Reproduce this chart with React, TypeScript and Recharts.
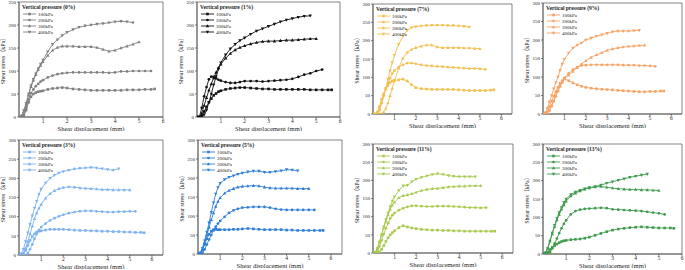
import React from 'react';
import { LineChart, Line, XAxis, YAxis, ReferenceArea } from 'recharts';

// shear displacement grid (mm), shared by every series
const DISP = [0, 0.1, 0.2, 0.3, 0.4, 0.5, 0.6, 0.7, 0.8, 0.9, 1.0, 1.2, 1.4, 1.6, 1.8, 2.0, 2.25, 2.5, 2.75, 3.0, 3.25, 3.5, 3.75, 4.0, 4.25, 4.5, 4.75, 5.0, 5.25, 5.5, 5.65];
const LOADS = ['100kPa', '200kPa', '300kPa', '400kPa'];

// 0%
const A_100 = [0, 0, 3, 15, 32, 44, 50, 53, 55, 56, 57, 60, 62, 63, 64, 63, 61, 60, 59, 58, 58, 58, 58, 58, 58, 59, 59, 59, 60, 60, 61];
const A_200 = [0, 0, 5, 20, 38, 52, 60, 67, 72, 77, 80, 86, 90, 93, 95, 96, 97, 97, 97, 97, 97, 97, 96, 97, 99, 99, 100, 100, 100, 100];
const A_300 = [0, 2, 12, 28, 48, 66, 80, 92, 103, 112, 120, 134, 145, 151, 154, 154, 154, 153, 153, 153, 151, 147, 143, 145, 150, 154, 158, 163];
const A_400 = [0, 2, 14, 30, 50, 68, 82, 94, 105, 115, 124, 142, 158, 168, 177, 184, 190, 195, 198, 200, 202, 203, 205, 207, 208, 207, 205];
// 1%
const B_100 = [0, 0, 3, 12, 22, 32, 40, 47, 51, 55, 57, 60, 62, 63, 64, 64, 63, 62, 61, 61, 60, 60, 60, 60, 60, 60, 59, 59, 59, 59, 59];
const B_200 = [0, 0, 20, 45, 65, 82, 88, 87, 84, 81, 79, 76, 74, 74, 76, 78, 78, 78, 77, 78, 79, 80, 81, 83, 87, 92, 95, 100, 103];
const B_300 = [0, 0, 8, 25, 42, 58, 72, 85, 97, 107, 115, 128, 138, 146, 151, 155, 159, 162, 164, 165, 165, 166, 167, 167, 168, 169, 170, 170];
const B_400 = [0, 0, 0, 5, 15, 32, 50, 70, 88, 104, 118, 135, 148, 158, 166, 172, 180, 187, 192, 197, 202, 207, 211, 214, 217, 219, 220];
// 7%
const C_100 = [0, 0, 5, 20, 40, 55, 68, 78, 86, 90, 92, 93, 95, 90, 80, 72, 69, 68, 67, 67, 67, 67, 67, 66, 65, 64, 64, 64, 64, 65, 66];
const C_200 = [0, 0, 0, 10, 30, 50, 68, 85, 98, 110, 118, 128, 134, 139, 139, 137, 134, 132, 131, 130, 129, 128, 127, 126, 125, 124, 124, 123, 122];
const C_300 = [0, 0, 0, 0, 0, 5, 15, 30, 50, 70, 90, 125, 152, 168, 176, 181, 185, 188, 188, 183, 181, 181, 181, 181, 180, 180, 179, 178];
const C_400 = [0, 0, 3, 12, 28, 48, 70, 95, 118, 140, 160, 190, 212, 228, 236, 238, 240, 241, 242, 242, 242, 241, 241, 240, 239, 237];
// 9%
const D_100 = [0, 0, 5, 20, 35, 48, 60, 72, 83, 90, 95, 90, 84, 79, 75, 72, 70, 68, 67, 66, 65, 64, 63, 62, 61, 60, 60, 61, 61, 62, 62];
const D_200 = [0, 0, 3, 10, 22, 35, 48, 62, 75, 88, 98, 110, 120, 127, 131, 132, 133, 133, 133, 133, 133, 133, 132, 132, 132, 131, 131, 130, 129];
const D_300 = [0, 0, 3, 10, 22, 35, 50, 63, 75, 85, 95, 105, 115, 125, 135, 144, 153, 160, 166, 172, 176, 179, 181, 183, 184, 185, 186];
const D_400 = [0, 3, 15, 32, 50, 68, 85, 100, 118, 135, 148, 165, 178, 186, 192, 200, 205, 210, 214, 218, 222, 224, 224, 224, 225, 226];
// 3%
const E_100 = [0, 0, 3, 12, 25, 38, 48, 55, 60, 62, 63, 65, 67, 67, 67, 67, 66, 65, 64, 64, 63, 63, 62, 62, 61, 61, 60, 60, 59, 59, 58];
const E_200 = [0, 0, 0, 0, 5, 15, 28, 42, 55, 65, 73, 82, 90, 96, 101, 105, 109, 112, 114, 115, 115, 114, 113, 112, 112, 113, 113, 114, 114];
const E_300 = [0, 0, 5, 18, 35, 55, 75, 95, 110, 122, 132, 148, 160, 168, 173, 176, 178, 177, 175, 174, 173, 172, 171, 171, 170, 170, 170, 170];
const E_400 = [0, 3, 15, 35, 58, 80, 102, 122, 140, 158, 172, 188, 200, 208, 214, 218, 221, 224, 226, 227, 228, 227, 225, 223, 221, 225];
// 5%
const F_100 = [0, 2, 10, 25, 40, 52, 60, 64, 65, 64, 64, 64, 64, 65, 65, 66, 67, 66, 65, 64, 64, 64, 64, 63, 63, 62, 62, 62, 62, 62, 62];
const F_200 = [0, 0, 3, 12, 25, 38, 50, 62, 72, 80, 87, 98, 108, 115, 119, 122, 123, 124, 124, 124, 122, 119, 117, 116, 116, 116, 116, 116, 116];
const F_300 = [0, 2, 12, 30, 50, 70, 90, 108, 125, 138, 148, 160, 167, 172, 176, 178, 179, 180, 179, 176, 174, 173, 173, 173, 173, 172, 172, 172];
const F_400 = [0, 3, 15, 35, 58, 82, 110, 135, 158, 175, 186, 196, 202, 206, 210, 213, 216, 218, 218, 215, 215, 217, 219, 222, 221, 219];
// 11%
const G_100 = [0, 0, 0, 3, 10, 20, 32, 42, 50, 56, 61, 70, 75, 72, 69, 67, 65, 64, 63, 63, 62, 62, 61, 61, 60, 60, 60, 60, 60, 60, 60];
const G_200 = [0, 0, 5, 18, 35, 52, 68, 82, 95, 104, 110, 118, 123, 127, 130, 130, 129, 128, 128, 129, 129, 129, 128, 127, 126, 125, 125, 124, 125];
const G_300 = [0, 2, 12, 30, 50, 70, 88, 105, 120, 132, 140, 152, 158, 160, 163, 167, 172, 175, 177, 178, 180, 182, 183, 184, 184, 185, 185, 185];
const G_400 = [0, 2, 12, 30, 50, 72, 92, 110, 128, 143, 155, 172, 185, 186, 196, 203, 208, 212, 216, 218, 216, 213, 211, 210, 210, 210, 210];
// 13%
const H_100 = [0, 0, 5, 12, 18, 23, 27, 31, 34, 36, 37, 39, 40, 41, 43, 46, 51, 56, 61, 65, 68, 70, 72, 73, 74, 73, 72, 71, 71, 71, 70];
const H_200 = [0, 0, 0, 5, 15, 28, 42, 57, 70, 82, 92, 108, 117, 121, 123, 124, 125, 126, 125, 122, 121, 120, 119, 118, 117, 115, 113, 111, 108];
const H_300 = [0, 3, 15, 35, 55, 75, 93, 108, 122, 134, 144, 158, 166, 172, 177, 180, 183, 184, 182, 180, 178, 177, 176, 176, 175, 175, 174, 173];
const H_400 = [0, 3, 15, 35, 57, 78, 97, 113, 127, 140, 150, 162, 169, 174, 178, 181, 184, 188, 193, 197, 201, 205, 209, 212, 215, 218];

const FONT = '"Liberation Serif", "Noto Sans CJK SC", serif';
const INK = '#222';

// plot-area rectangles (page px) for each panel
const PANELS = [
  { pct: '0%', color: '#808080', l: 19, t: 2, r: 163, b: 117, xMax: 6, yMax: 250, series: [A_100, A_200, A_300, A_400] },
  { pct: '1%', color: '#111111', l: 197, t: 2, r: 340, b: 117, xMax: 6, yMax: 250, series: [B_100, B_200, B_300, B_400] },
  { pct: '7%', color: '#f2c050', l: 373, t: 4, r: 512, b: 114, xMax: 6.5, yMax: 300, series: [C_100, C_200, C_300, C_400] },
  { pct: '9%', color: '#f6a466', l: 543, t: 3, r: 682, b: 114, xMax: 6.5, yMax: 300, series: [D_100, D_200, D_300, D_400] },
  { pct: '3%', color: '#7db2f2', l: 19, t: 140, r: 163, b: 255, xMax: 6.5, yMax: 300, series: [E_100, E_200, E_300, E_400] },
  { pct: '5%', color: '#2f7fd8', l: 198, t: 140, r: 342, b: 254, xMax: 6.5, yMax: 300, series: [F_100, F_200, F_300, F_400] },
  { pct: '11%', color: '#a8cb4e', l: 373, t: 144, r: 513, b: 253, xMax: 6.5, yMax: 300, series: [G_100, G_200, G_300, G_400] },
  { pct: '13%', color: '#3e9b4c', l: 543, t: 144, r: 682, b: 254, xMax: 6, yMax: 300, series: [H_100, H_200, H_300, H_400] },
];

const Marker = ({ cx, cy, shape, color, s = 1.3 }: any) => {
  if (cx == null || cy == null) return null;
  if (shape === 0) return <rect x={cx - s} y={cy - s} width={2 * s} height={2 * s} fill={color} />;
  if (shape === 1) return <circle cx={cx} cy={cy} r={s * 1.05} fill={color} />;
  if (shape === 2)
    return <path d={`M${cx},${cy - s * 1.4}L${cx + s * 1.3},${cy + s}L${cx - s * 1.3},${cy + s}Z`} fill={color} />;
  return <path d={`M${cx},${cy + s * 1.4}L${cx + s * 1.3},${cy - s}L${cx - s * 1.3},${cy - s}Z`} fill={color} />;
};

const YAW = 20; // y axis width
const XAH = 14; // x axis height
const MT = 5;
const MR = 5;

const Panel = ({ p }: any) => {
  const pw = p.r - p.l;
  const ph = p.b - p.t;
  const xTicks = [1, 2, 3, 4, 5, 6];
  const yTicks = p.yMax === 250 ? [0, 50, 100, 150, 200, 250] : [0, 50, 100, 150, 200, 250, 300];
  return (
    <>
      <div style={{ position: 'absolute', left: p.l - YAW, top: p.t - MT }}>
        <LineChart width={pw + YAW + MR} height={ph + MT + XAH} margin={{ top: MT, right: MR, left: 0, bottom: 0 }}>
          <XAxis
            dataKey="x"
            type="number"
            domain={[0, p.xMax]}
            ticks={xTicks}
            allowDataOverflow
            height={XAH}
            stroke="#333"
            strokeWidth={0.6}
            tickSize={2}
            tickMargin={0}
            tick={{ fontSize: 5.5, fill: INK, fontFamily: FONT }}
            label={{ value: 'Shear displacement (mm)', position: 'insideBottom', offset: 0, fontSize: 6.5, fill: INK, fontFamily: FONT }}
          />
          <YAxis
            type="number"
            domain={[0, p.yMax]}
            ticks={yTicks}
            allowDataOverflow
            width={YAW}
            stroke="#333"
            strokeWidth={0.6}
            tickSize={2}
            tickMargin={1}
            tick={{ fontSize: 5, fill: INK, fontFamily: FONT }}
            label={{
              value: 'Shear stress（kPa）',
              angle: -90,
              position: 'insideLeft',
              offset: 4,
              fontSize: 6,
              fill: INK,
              fontFamily: FONT,
              style: { textAnchor: 'middle' },
            }}
          />
          <ReferenceArea x1={0} x2={p.xMax} y1={0} y2={p.yMax} fill="none" stroke="#333" strokeWidth={0.6} ifOverflow="visible" />
          {p.series.map((vals: number[], si: number) => (
            <Line
              key={LOADS[si]}
              name={LOADS[si]}
              data={vals.map((v, i) => ({ x: DISP[i], y: v }))}
              dataKey="y"
              type="linear"
              stroke={p.color}
              strokeWidth={0.9}
              dot={(d: any) => <Marker key={`m-${si}-${d.index}`} cx={d.cx} cy={d.cy} shape={si} color={p.color} />}
              activeDot={false}
              isAnimationActive={false}
            />
          ))}
        </LineChart>
      </div>
      <svg style={{ position: 'absolute', left: p.l, top: p.t }} width={90} height={40}>
        <text x={3} y={7} fontSize={5.5} fontWeight="bold" fill={INK} fontFamily={FONT}>
          {`Vertical pressure (${p.pct})`}
        </text>
        {LOADS.map((name, si) => {
          const y = 12 + si * 6;
          return (
            <g key={name}>
              <line x1={4} x2={17} y1={y} y2={y} stroke={p.color} strokeWidth={0.9} />
              <Marker cx={10.5} cy={y} shape={si} color={p.color} />
              <text x={19} y={y + 1.8} fontSize={5} fill={INK} fontFamily={FONT}>
                {name}
              </text>
            </g>
          );
        })}
      </svg>
    </>
  );
};

export default function App() {
  return (
    <div style={{ position: 'absolute', left: 0, top: 0, width: 685, height: 270, background: '#fff', overflow: 'hidden' }}>
      {PANELS.map((p) => (
        <Panel key={p.pct} p={p} />
      ))}
    </div>
  );
}
